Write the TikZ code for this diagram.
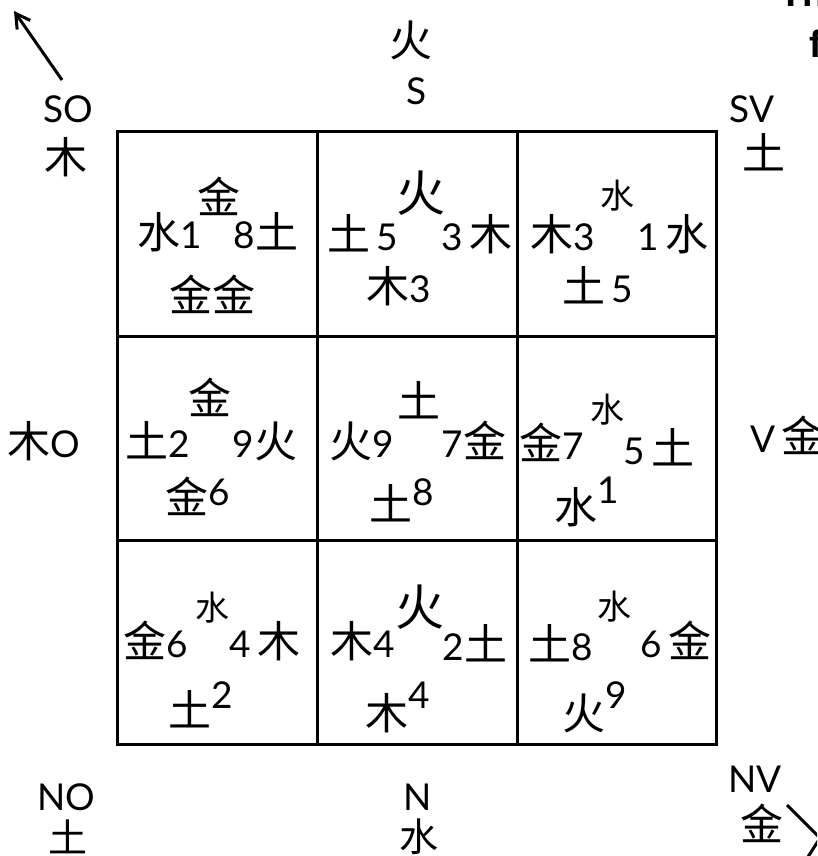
\documentclass[tikz,border=0pt]{standalone}
\usepackage{fontspec}
\setmainfont{Lato}
\newfontfamily\cjk{Noto Sans CJK SC}
\newfontfamily\headfont{Liberation Sans}
\usetikzlibrary{arrows.meta}

\newcommand{\zi}[1]{{\fontsize{43}{45}\selectfont\cjk #1}}
\newcommand{\up}[2]{\raisebox{#1pt}{#2}}

\tikzset{
  lbl/.style={inner sep=0pt, font=\fontsize{37}{40}\selectfont},
  zichar/.style={inner sep=0pt, font=\fontsize{43}{45}\selectfont\cjk},
  zilow/.style={inner sep=0pt, font=\fontsize{39}{41}\selectfont\cjk},
  zismall/.style={inner sep=0pt, font=\fontsize{34}{36}\selectfont\cjk},
  zibig/.style={inner sep=0pt, font=\fontsize{49}{51}\selectfont\cjk},
  gridline/.style={line width=3pt},
  pointer/.style={line width=3pt, -{Straight Barb[length=14pt,width=16pt,line width=3pt]}}
}

\begin{document}
\begin{tikzpicture}[x=1pt,y=-1pt]

            \useasboundingbox (0,0) rectangle (817,856);
            \clip (0,0) rectangle (817,856);

            % the square
            \draw[gridline] (117,131.5) rectangle (716,744.5);
            \foreach \gx in {317,517}
              \draw[gridline] (\gx,131.5) -- (\gx,744.5);
            \foreach \gy in {336,540.5}
              \draw[gridline] (117,\gy) -- (716,\gy);

            % compass labels
            \node[zichar] (fireS) at (411,40) {火};
            \node[lbl, anchor=base] (south) at (417,105) {S};
            \node[lbl, anchor=base] (southO) at (68,122) {SO};
            \node[zichar] (woodSO) at (66,157) {木};
            \node[lbl, anchor=base] (southV) at (752,122) {SV};
            \node[zichar] (earthSV) at (764,152) {土};
            \node[lbl, anchor=base] (west) at (44,457) {\zi{木}O};
            \node[lbl, anchor=base west] (east) at (750,452) {V\,\zi{金}};
            \node[lbl, anchor=base] (northO) at (66,810) {NO};
            \node[zilow] (earthNO) at (68,837) {土};
            \node[lbl, anchor=base] (north) at (418,810) {N};
            \node[zilow] (waterN) at (419,837) {水};
            \node[lbl, anchor=base] (northV) at (755,792) {NV};
            \node[zichar] (metalNV) at (762,823) {金};

            % cut off title
            \node[inner sep=0pt, anchor=base west, font=\headfont\bfseries\fontsize{38}{40}\selectfont] (titleA) at (779,7) {Thi};
            \node[inner sep=0pt, anchor=base west, font=\headfont\bfseries\fontsize{38}{40}\selectfont] (titleB) at (809,58) {f};

            % arrows
            \coordinate (soTail) at (62,80);
            \coordinate (soTip) at (14,11);
            \draw[pointer] (soTail) -- (soTip);
            \draw[line width=3pt] (787,805) -- (820,838) -- (806,860);

            % row 1
            \node[zichar] (topA) at (219,196) {金};
            \node[lbl, anchor=base] (leftA) at (170,248) {\zi{水}1};
            \node[lbl, anchor=base] (rightA) at (266,248) {8\zi{土}};
            \node[zichar] (botA) at (212,294) {金金};

            \node[zibig] (topB) at (421,193) {火};
            \node[lbl, anchor=base] (leftB) at (363,250) {\zi{土}\,5};
            \node[lbl, anchor=base] (rightB) at (477,250) {3\,\zi{木}};
            \node[lbl, anchor=base] (botB) at (399,302) {\zi{木}3};

            \node[zismall] (topC) at (617,196) {水};
            \node[lbl, anchor=base] (leftC) at (563,250) {\zi{木}3};
            \node[lbl, anchor=base] (rightC) at (673,250) {1\,\zi{水}};
            \node[lbl, anchor=base] (botC) at (598,302) {\zi{土}\,5};

            % row 2
            \node[zichar] (topD) at (210,397) {金};
            \node[lbl, anchor=base] (leftD) at (158,457) {\zi{土}2};
            \node[lbl, anchor=base] (rightD) at (265,457) {9\zi{火}};
            \node[lbl, anchor=base] (botD) at (198,513) {\zi{金}\up{8}{6}};

            \node[zichar] (topE) at (419,400) {土};
            \node[lbl, anchor=base] (leftE) at (362,457) {\zi{火}9};
            \node[lbl, anchor=base] (rightE) at (474,457) {7\zi{金}};
            \node[lbl, anchor=base] (botE) at (402,520) {\zi{土}\up{15}{8}};

            \node[zismall] (topF) at (607,410) {水};
            \node[lbl, anchor=base] (leftF) at (552,459) {\zi{金}7};
            \node[lbl, anchor=base] (rightF) at (659,464) {5\,\zi{土}};
            \node[lbl, anchor=base] (botF) at (587,523) {\zi{水}\up{20}{1}};

            % row 3
            \node[zismall] (topG) at (212,608) {水};
            \node[lbl, anchor=base] (leftG) at (156,657) {\zi{金}6};
            \node[lbl, anchor=base] (rightG) at (265,657) {4\,\zi{木}};
            \node[lbl, anchor=base] (botG) at (201,726) {\zi{土}\up{18}{2}};

            \node[zibig] (topH) at (420,607) {火};
            \node[lbl, anchor=base] (leftH) at (363,657) {\zi{木}4};
            \node[lbl, anchor=base] (rightH) at (475,660) {2\zi{土}};
            \node[lbl, anchor=base] (botH) at (398,729) {\zi{木}\up{21}{4}};

            \node[zismall] (topI) at (614,607) {水};
            \node[lbl, anchor=base] (leftI) at (561,660) {\zi{土}8};
            \node[lbl, anchor=base] (rightI) at (676,657) {6\,\zi{金}};
            \node[lbl, anchor=base] (botI) at (595,729) {\zi{火}\up{21}{9}};

\end{tikzpicture}
\end{document}
